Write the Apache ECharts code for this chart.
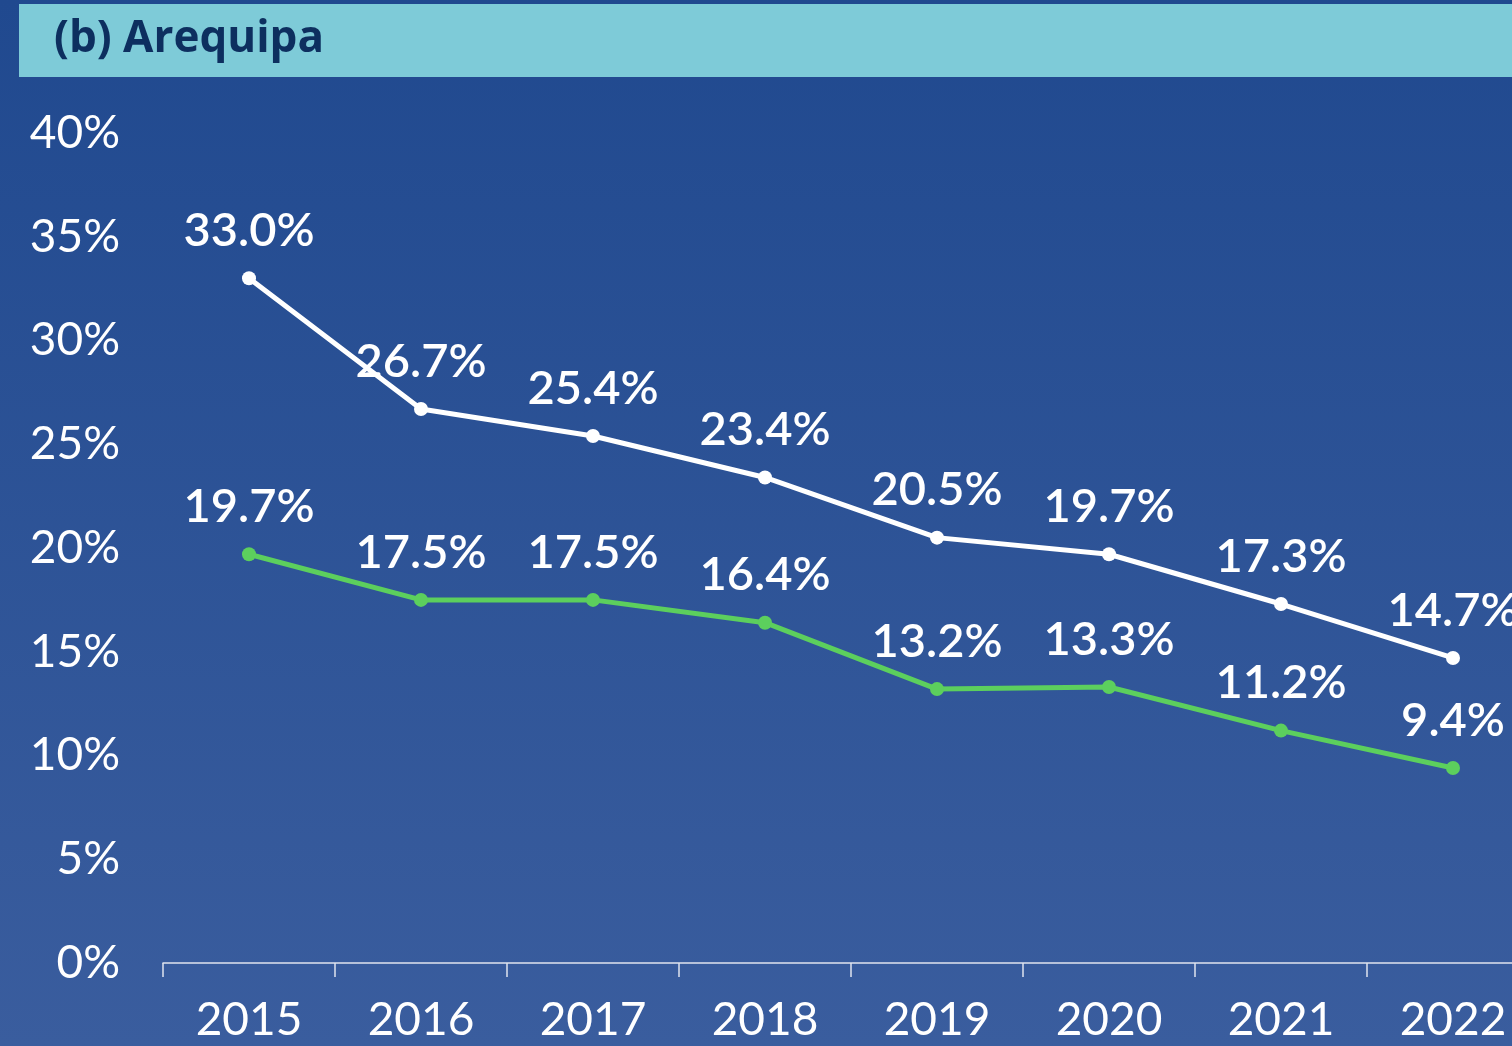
<!DOCTYPE html>
<html>
<head>
<meta charset="utf-8">
<script src="https://cdn.jsdelivr.net/npm/echarts@6/dist/echarts.min.js"></script>
<style>
  html, body { margin: 0; padding: 0; overflow: hidden; }
  /* the plot runs past the right edge in the original, so the canvas is wider than the window */
  #chart { width: 1539px; height: 1046px; }
</style>
</head>
<body>
<div id="chart"></div>
<script>
const years = ['2015', '2016', '2017', '2018', '2019', '2020', '2021', '2022'];
const whiteSeries = [33.0, 26.7, 25.4, 23.4, 20.5, 19.7, 17.3, 14.7];
const greenSeries = [19.7, 17.5, 17.5, 16.4, 13.2, 13.3, 11.2, 9.4];
const yTicks = [0, 5, 10, 15, 20, 25, 30, 35, 40];

const font = 'Lato';
const chart = echarts.init(document.getElementById('chart'));

const labelStyle = {
  show: true,
  position: 'top',
  distance: 17,
  color: '#ffffff',
  fontFamily: font,
  fontSize: 47,
  fontWeight: 600,
  formatter: p => p.value.toFixed(1) + '%'
};

chart.setOption({
  backgroundColor: new echarts.graphic.LinearGradient(0, 0, 0, 1, [
    { offset: 0, color: '#20498f' },
    { offset: 1, color: '#3a5d9e' }
  ]),
  graphic: [
    { type: 'rect', shape: { x: 19, y: 4, width: 1520, height: 73 }, style: { fill: '#7ecbd8' } },
    { type: 'text', left: 54, top: 17, style: { text: '(b) Arequipa', fill: '#0d2f5f', font: 'bold 44px "Open Sans"' } }
  ],
  grid: { left: 163, right: 0, top: 133, bottom: 83 },
  xAxis: {
    type: 'category',
    data: years,
    boundaryGap: true,
    axisLine: { lineStyle: { color: '#dfe4ee', width: 1.5 } },
    axisTick: { show: true, length: 14, lineStyle: { color: '#dfe4ee', width: 1.5 } },
    axisLabel: { color: '#ffffff', fontFamily: font, fontSize: 46, margin: 34 }
  },
  yAxis: {
    type: 'value',
    min: yTicks[0],
    max: yTicks[yTicks.length - 1],
    interval: 5,
    splitLine: { show: false },
    axisLine: { show: false },
    axisTick: { show: false },
    axisLabel: { color: '#ffffff', fontFamily: font, fontSize: 46, margin: 43, formatter: v => v + '%' }
  },
  series: [
    {
      type: 'line',
      data: whiteSeries,
      symbol: 'circle',
      symbolSize: 14,
      lineStyle: { color: '#ffffff', width: 5 },
      itemStyle: { color: '#ffffff' },
      label: labelStyle,
      z: 3
    },
    {
      type: 'line',
      data: greenSeries,
      symbol: 'circle',
      symbolSize: 14,
      lineStyle: { color: '#5ccf5d', width: 5 },
      itemStyle: { color: '#5ccf5d' },
      label: labelStyle,
      z: 2
    }
  ],
  animation: false
});

window.addEventListener('resize', () => chart.resize());
</script>
</body>
</html>
